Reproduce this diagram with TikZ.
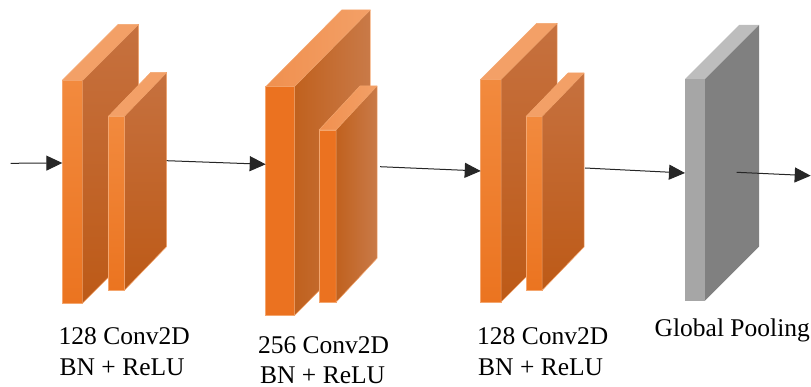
\documentclass[tikz,border=0pt]{standalone}
\usepackage{fontspec}
\setmainfont{Liberation Serif}
\usetikzlibrary{arrows.meta,calc}

% palette
\definecolor{edgeorange}{HTML}{F4A66E}
\definecolor{frontlight}{HTML}{F28A3E}
\definecolor{frontdark}{HTML}{EB7420}
\definecolor{topface}{HTML}{F3A067}
\definecolor{sidetop}{HTML}{C6713F}
\definecolor{sidebottom}{HTML}{BD5A17}
\definecolor{midfront}{HTML}{EB7220}
\definecolor{midtop}{HTML}{F0904F}
\definecolor{midsideL}{HTML}{C0611E}
\definecolor{midsideR}{HTML}{C97A48}
\definecolor{greyfront}{HTML}{A6A6A6}
\definecolor{greytop}{HTML}{BDBDBD}
\definecolor{greyside}{HTML}{808080}

\tikzset{
  % orange slab, vertical shading on the side
  ofront/.style={draw=edgeorange, line width=0.5pt, outer sep=0pt, inner sep=0pt,
    top color=frontlight, bottom color=frontdark},
  otop/.style={draw=edgeorange, line width=0.5pt, fill=topface, line join=round},
  oside/.style={draw=edgeorange, line width=0.5pt, top color=sidetop, bottom color=sidebottom, line join=round},
  % orange slab, horizontal shading on the side
  mfront/.style={draw=edgeorange, line width=0.5pt, outer sep=0pt, inner sep=0pt, fill=midfront},
  mtop/.style={draw=edgeorange, line width=0.5pt, left color=midtop, right color=topface, line join=round},
  mside/.style={draw=edgeorange, line width=0.5pt, left color=midsideL, right color=midsideR, line join=round},
  % grey slab
  gfront/.style={outer sep=0pt, inner sep=0pt, fill=greyfront},
  gtop/.style={fill=greytop},
  gside/.style={fill=greyside},
  link/.style={draw=black!85, line width=1pt, -{Triangle[length=16pt,width=15pt]}},
  lbl/.style={font=\fontsize{25.5}{31}\selectfont, inner sep=0pt, anchor=base west},
}

% #1 name, #2 x, #3 y of top edge, #4 width, #5 height, #6 depth vector, #7 palette
\newcommand{\drawslab}[7]{%
  \node[#7front, minimum width=#4pt, minimum height=#5pt, anchor=north west] (#1) at (#2,#3) {};
  \path[#7top] (#1.north west) -- (#1.north east) -- ($(#1.north east)+#6$) -- ($(#1.north west)+#6$) -- cycle;
  \path[#7side] (#1.north east) -- ($(#1.north east)+#6$) -- ($(#1.south east)+#6$) -- (#1.south east) -- cycle;
}

\begin{document}
\begin{tikzpicture}[x=1pt,y=-1pt]
\useasboundingbox (0,0) rectangle (811,387);

% first 128-filter stage
\drawslab{b1a}{62.3}{80.3}{20.4}{222.7}{(56,-56)}{o}
\drawslab{b1b}{108.7}{116}{16}{174}{(42,-43.5)}{o}

% 256-filter stage
\drawslab{b2a}{265.7}{86.7}{28.6}{229}{(76,-76.7)}{m}
\drawslab{b2b}{319}{130}{17}{172.3}{(41,-44)}{m}

% second 128-filter stage
\drawslab{b3a}{480.7}{79.3}{20.4}{222.7}{(56,-56)}{o}
\drawslab{b3b}{526}{116.5}{16}{174}{(42,-43.5)}{o}

% global pooling
\drawslab{gp}{685}{79}{20}{221.7}{(54,-54)}{g}

% connector ends
\coordinate (in)  at (10.7,163.3);
\coordinate (o1)  at (166.7,160.7);
\coordinate (o2)  at (380,166.7);
\coordinate (o3)  at (585,168);
\coordinate (o4)  at (736.7,172.3);
\coordinate (out) at (810.7,175.7);

\draw[link] (in) -- ($(b1a.north west)+(0,82.7)$);
\draw[link] (o1) -- ($(b2a.north west)+(0,77.6)$);
\draw[link] (o2) -- ($(b3a.north west)+(0,91.7)$);
\draw[link] (o3) -- ($(gp.north west)+(0,94)$);
\draw[link] (o4) -- (out);

% labels
\node[lbl] (t1a) at (58.5,344.5) {128 Conv2D};
\node[lbl] (t1b) at (59.5,375) {BN + ReLU};
\node[lbl] (t2a) at (257.8,353) {256 Conv2D};
\node[lbl] (t2b) at (260,383) {BN + ReLU};
\node[lbl] (t3a) at (477,344.5) {128 Conv2D};
\node[lbl] (t3b) at (478,375) {BN + ReLU};
\node[lbl] (t4)  at (654.5,336.7) {Global Pooling};
\end{tikzpicture}
\end{document}
